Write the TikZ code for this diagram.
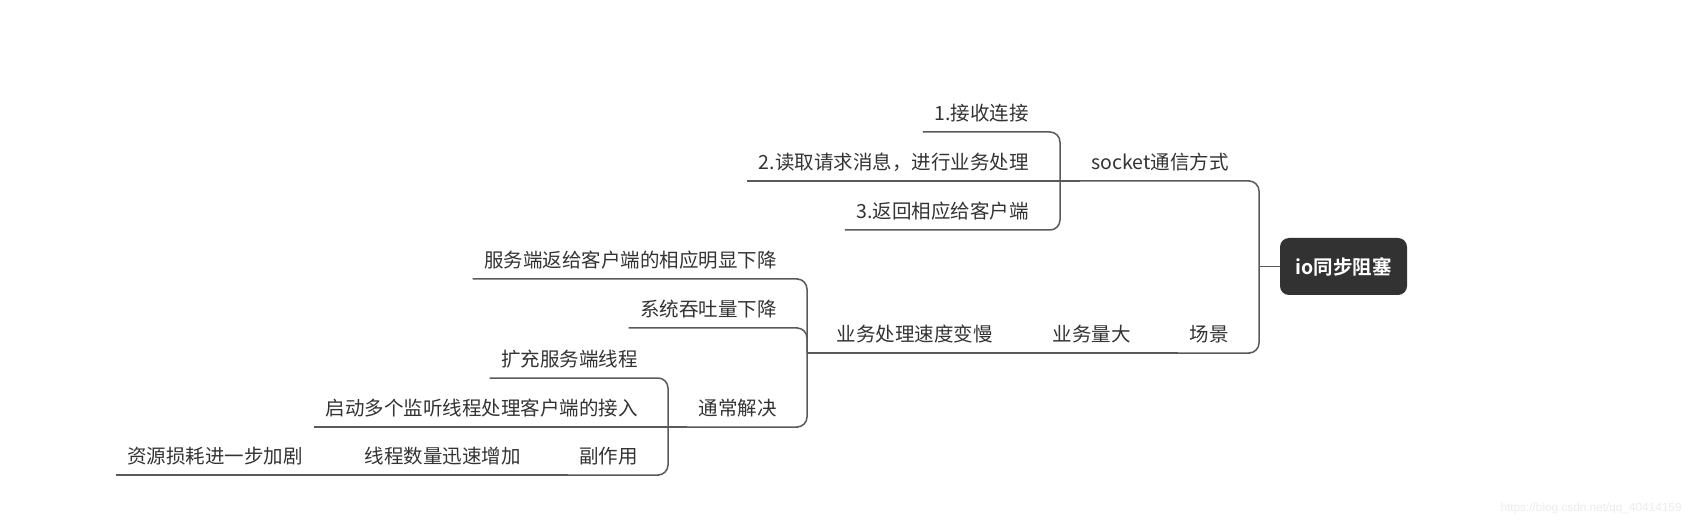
\documentclass[tikz,border=0pt]{standalone}
\usepackage{fontspec}
\setmainfont{Noto Sans CJK SC}[BoldFont={Noto Sans CJK SC Bold}]
\newfontfamily\urlfont{Liberation Sans}
\usepackage{xcolor}
\usepackage{tikz}
\definecolor{txtgray}{HTML}{333333}
\definecolor{linegray}{HTML}{5A5A5A}
\definecolor{rootgray}{HTML}{323232}
\definecolor{markgray}{HTML}{EBEBEB}

\begin{document}
\begin{tikzpicture}[x=0.5pt, y=-0.5pt,
  topic/.style={anchor=south east, inner xsep=5.5pt, inner ysep=0pt, text height=8pt, text depth=5.65pt, text=txtgray, font=\fontsize{9.75}{12}\selectfont},
  rootbox/.style={rounded corners=4.5pt, fill=rootgray, text=white, minimum width=63.5pt, minimum height=28.5pt, inner sep=0pt, font=\fontsize{9.75}{12}\selectfont\bfseries},
  branch/.style={draw=linegray, line width=0.75pt, rounded corners=5pt}]
\useasboundingbox (0,0) rectangle (1692,529);
\node[rootbox] (root) at (1343.5,266.5) {io同步阻塞};
\node[topic] (socket) at (1240,181) {socket通信方式};
\node[topic] (scene) at (1240,353) {场景};
\node[topic] (load) at (1142,353) {业务量大};
\node[topic] (slow) at (1004,353) {业务处理速度变慢};
\node[topic] (accept) at (1040,132) {1.接收连接};
\node[topic] (read) at (1040,181) {2.读取请求消息，进行业务处理};
\node[topic] (reply) at (1040,230) {3.返回相应给客户端};
\node[topic] (resp) at (788,279) {服务端返给客户端的相应明显下降};
\node[topic] (thru) at (788,328) {系统吞吐量下降};
\node[topic] (usual) at (788,427) {通常解决};
\node[topic] (expand) at (649,378) {扩充服务端线程};
\node[topic] (listen) at (649,427) {启动多个监听线程处理客户端的接入};
\node[topic] (side) at (649,475) {副作用};
\node[topic] (grow) at (532,475) {线程数量迅速增加};
\node[topic] (waste) at (314,475) {资源损耗进一步加剧};
\node[anchor=east, inner sep=0pt, text=markgray, font=\urlfont\fontsize{5.9}{7}\selectfont] (mark) at (1682,508) {https://blog.csdn.net/qq\_40414159};
\coordinate (jroot) at (1259,266.5);
\coordinate (jsock) at (1060,181);
\coordinate (jslow) at (807,353);
\coordinate (jusual) at (668,427);
% root branches
\draw[branch] (jroot) -- (root);
\draw[branch] (socket.south west) -- (socket.south east) -| (jroot);
\draw[branch] (scene.south west) -- (scene.south east) -| (jroot);
\draw[branch] (load.south west) -- (scene.south west);
\draw[branch] (slow.south west) -- (load.south west);
% socket
\draw[branch] (jsock) -- (socket.south west);
\draw[branch] (accept.south west) -- (accept.south east) -| (jsock);
\draw[branch] (read.south west) -- (jsock);
\draw[branch] (reply.south west) -- (reply.south east) -| (jsock);
% slow processing
\draw[branch] (jslow) -- (slow.south west);
\draw[branch] (resp.south west) -- (resp.south east) -| (jslow);
\draw[branch] (thru.south west) -- (thru.south east) -| (jslow);
\draw[branch] (usual.south west) -- (usual.south east) -| (jslow);
% usual fix
\draw[branch] (jusual) -- (usual.south west);
\draw[branch] (expand.south west) -- (expand.south east) -| (jusual);
\draw[branch] (listen.south west) -- (jusual);
\draw[branch] (side.south west) -- (side.south east) -| (jusual);
\draw[branch] (grow.south west) -- (side.south west);
\draw[branch] (waste.south west) -- (grow.south west);
\end{tikzpicture}
\end{document}
